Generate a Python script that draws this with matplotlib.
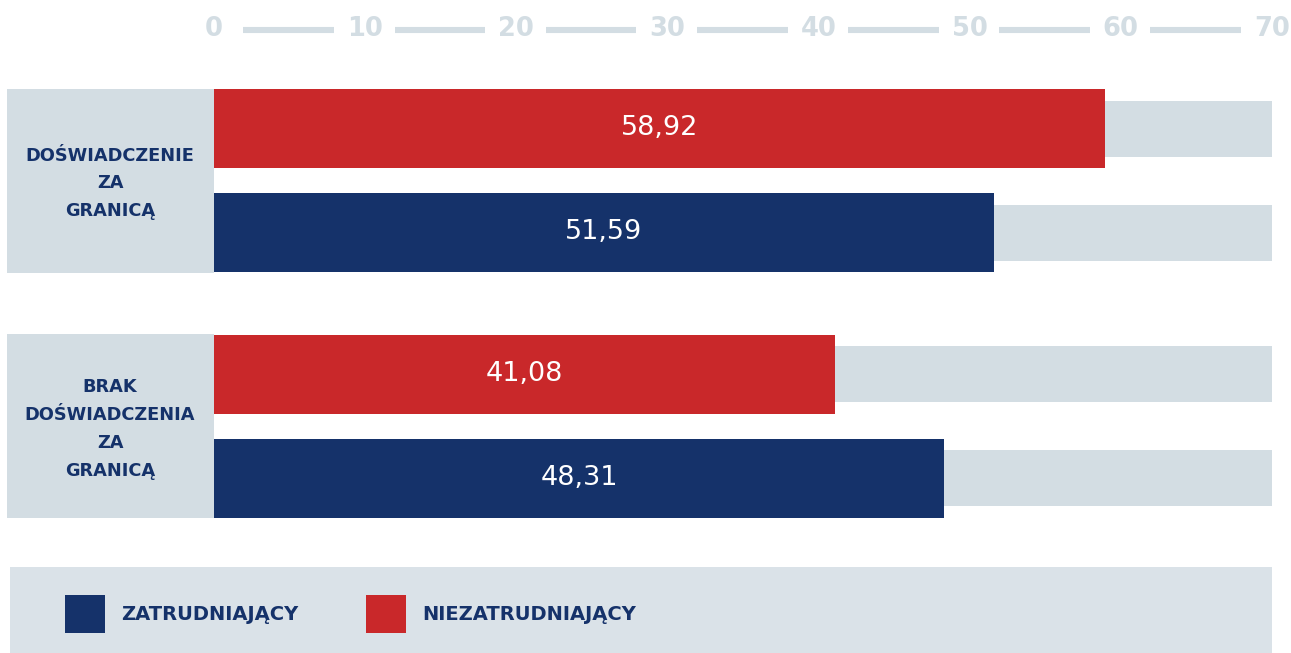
import matplotlib.pyplot as plt
from matplotlib.patches import Rectangle

# dane
kategorie = ["DOŚWIADCZENIE\nZA\nGRANICĄ", "BRAK\nDOŚWIADCZENIA\nZA\nGRANICĄ"]
niezatrudniajacy = [58.92, 41.08]
zatrudniajacy = [51.59, 48.31]
etykiety_serii = ["ZATRUDNIAJĄCY", "NIEZATRUDNIAJĄCY"]
ticki = [0, 10, 20, 30, 40, 50, 60, 70]

CZERWONY = "#c9282a"
GRANAT = "#15326a"
SZARY = "#d3dde3"
SZARY_LEG = "#dae2e8"

plt.rcParams['font.family'] = ['DejaVu Sans']

W, H = 1291, 653
fig = plt.figure(figsize=(W / 100, H / 100), dpi=100)
ax = fig.add_axes([0, 0, 1, 1])

# skala: 0 -> 214 px, 70 -> 1272 px
x0, x70 = 214, 1272
skala = (x70 - x0) / 70
def px(x):
    return (x - x0) / skala

ax.set_xlim(px(0), px(W))
ax.set_ylim(H, 0)
ax.axis("off")

xmax = ticki[-1]
srodki_grup = [180.5, 426]
wys_bar = 79
wys_tor = 56
off = 52

for i, kat in enumerate(kategorie):
    c = srodki_grup[i]
    # pole z etykieta kategorii
    ax.barh(c, px(x0) - px(7), left=px(7), height=184, color=SZARY, linewidth=0)
    ax.text(px(110), c + 3, kat, ha="center", va="center", color=GRANAT,
            fontsize=12.8, fontweight="bold", linespacing=1.7)
    for y, val, kol in [(c - off, niezatrudniajacy[i], CZERWONY),
                        (c + off, zatrudniajacy[i], GRANAT)]:
        ax.barh(y, xmax, left=0, height=wys_tor, color=SZARY, linewidth=0)
        ax.barh(y, val, left=0, height=wys_bar, color=kol, linewidth=0)
        ax.text(val / 2, y, f"{val:.2f}".replace(".", ","), ha="center",
                va="center", color="white", fontsize=19.5)

# os u gory
for t in ticki:
    ax.text(t, 29, str(t), ha="center", va="center", color=SZARY,
            fontsize=18.5, fontweight="bold")
for t in ticki[:-1]:
    ax.plot([t + 1.95, t + 7.95], [30, 30], color=SZARY, lw=4.4,
            solid_capstyle="butt")

# legenda
ax.add_patch(Rectangle((px(10), 567), px(1272) - px(10), 90, color=SZARY_LEG,
                       linewidth=0, clip_on=False))
for xs, kol, lab in [(65, GRANAT, etykiety_serii[0]), (366, CZERWONY, etykiety_serii[1])]:
    ax.add_patch(Rectangle((px(xs), 595), px(xs + 40) - px(xs), 38, color=kol,
                           linewidth=0))
    ax.text(px(xs + 56), 615, lab, ha="left", va="center", color=GRANAT,
            fontsize=14, fontweight="bold")

fig.savefig("out.png", dpi=100)
